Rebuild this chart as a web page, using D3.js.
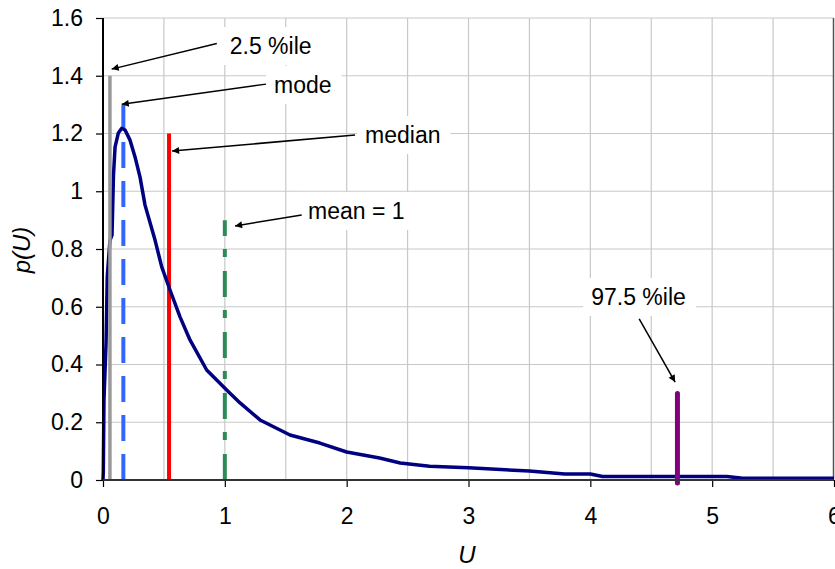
<!DOCTYPE html>
<html>
<head>
<meta charset="utf-8">
<script src="https://cdn.jsdelivr.net/npm/d3@7"></script>
<style>
  body { margin: 0; background: #fff; }
  svg { display: block; font-family: "Liberation Sans", Arial, sans-serif; }
</style>
</head>
<body>
<svg id="plotSvg"></svg>
<script>
// density curve
const uVals = [0, 0.0025, 0.008, 0.025, 0.035, 0.057, 0.074, 0.086, 0.099, 0.126, 0.154, 0.181, 0.222, 0.263,
  0.304, 0.345, 0.427, 0.482, 0.55, 0.632, 0.714, 0.851, 0.933, 1.015, 1.125, 1.289, 1.535, 1.78, 2.0,
  2.27, 2.44, 2.68, 3.0, 3.5, 3.79, 4.0, 4.1, 5.12, 5.25, 6.0];
const pVals = [0, 0.029, 0.277, 0.474, 0.704, 0.83, 0.848, 1.056, 1.153, 1.202, 1.218, 1.212, 1.177, 1.119,
  1.049, 0.952, 0.831, 0.738, 0.658, 0.565, 0.485, 0.381, 0.346, 0.312, 0.267, 0.208, 0.156, 0.128, 0.097,
  0.076, 0.059, 0.048, 0.042, 0.031, 0.021, 0.021, 0.012, 0.012, 0.006, 0.006];

// vertical marker lines
const markerNames = ["2.5 %ile", "mode", "median", "mean", "97.5 %ile"];
const markerU = [0.057, 0.167, 0.542, 1.0, 4.715];
const markerTop = [1.4, 1.3, 1.2, 0.9, 0.3];

// annotation labels
const labelTexts = ["2.5 %ile", "mode", "median", "mean = 1", "97.5 %ile"];

const xTicks = [0, 1, 2, 3, 4, 5, 6];
const yTicks = [0, 0.2, 0.4, 0.6, 0.8, 1, 1.2, 1.4, 1.6];

const W = 835, H = 569;
const margin = { top: 18, right: 1, bottom: 89, left: 103 };
const fontSize = 23;

const svg = d3.select("#plotSvg").attr("width", W).attr("height", H);

const x = d3.scaleLinear().domain([0, 6]).range([margin.left, W - margin.right]);
const y = d3.scaleLinear().domain([0, 1.6]).range([H - margin.bottom, margin.top]);

// gridlines
const grid = svg.append("g").attr("stroke", "#c8c8c8").attr("stroke-width", 1.2);
grid.selectAll(".vg").data(d3.range(0.5, 5.99, 0.5)).enter().append("line")
  .attr("x1", d => x(d)).attr("x2", d => x(d))
  .attr("y1", y(0)).attr("y2", y(1.6));
grid.selectAll(".hg").data(yTicks.slice(1)).enter().append("line")
  .attr("x1", x(0)).attr("x2", x(6))
  .attr("y1", d => y(d)).attr("y2", d => y(d));

// right frame edge
svg.append("line").attr("x1", x(6) - 0.5).attr("x2", x(6) - 0.5).attr("y1", y(1.6)).attr("y2", y(0))
  .attr("stroke", "#555").attr("stroke-width", 1.5);

// marker styles
const markerStyle = {
  "2.5 %ile": { color: "#999999", width: 3.5, dash: null, cap: "butt" },
  "mode": { color: "#3366ff", width: 4, dash: "26,13", cap: "butt" },
  "median": { color: "#ff0000", width: 4, dash: null, cap: "butt" },
  "mean": { color: "#2e8b57", width: 4, dash: "26,14,8,13", cap: "butt" },
  "97.5 %ile": { color: "#800080", width: 5, dash: null, cap: "round" }
};

const markers = markerNames.map((n, i) => ({ name: n, u: markerU[i], top: markerTop[i] }));

// curve
const line = d3.line().x(d => x(d[0])).y(d => y(d[1]));
const curveData = uVals.map((u, i) => [u, pVals[i]]);

svg.append("g").selectAll("line").data(markers.filter(d => d.name !== "97.5 %ile" && d.name !== "2.5 %ile"))
  .enter().append("line")
  .attr("x1", d => x(d.u)).attr("x2", d => x(d.u))
  .attr("y1", y(0)).attr("y2", d => y(d.top))
  .attr("stroke", d => markerStyle[d.name].color)
  .attr("stroke-width", d => markerStyle[d.name].width)
  .attr("stroke-dasharray", d => markerStyle[d.name].dash)
  .attr("stroke-linecap", d => markerStyle[d.name].cap);

svg.append("path").datum(curveData)
  .attr("d", line)
  .attr("fill", "none")
  .attr("stroke", "#000080")
  .attr("stroke-width", 3.5)
  .attr("stroke-linejoin", "round");

svg.append("g").selectAll("line").data(markers.filter(d => d.name === "97.5 %ile" || d.name === "2.5 %ile"))
  .enter().append("line")
  .attr("x1", d => x(d.u)).attr("x2", d => x(d.u))
  .attr("y1", d => d.name === "97.5 %ile" ? y(0) + 3 : y(0)).attr("y2", d => y(d.top))
  .attr("stroke", d => markerStyle[d.name].color)
  .attr("stroke-width", d => markerStyle[d.name].width)
  .attr("stroke-linecap", d => markerStyle[d.name].cap);

// axes
const xAxis = svg.append("g")
  .attr("transform", `translate(0,${y(0)})`)
  .call(d3.axisBottom(x).tickValues(xTicks).tickFormat(d3.format("d")).tickSize(7).tickSizeOuter(0).tickPadding(21));
const yAxis = svg.append("g")
  .attr("transform", `translate(${x(0)},0)`)
  .call(d3.axisLeft(y).tickValues(yTicks).tickFormat(d => d3.format("")(+d.toFixed(1))).tickSize(7).tickSizeOuter(0).tickPadding(13));

[xAxis, yAxis].forEach(a => {
  a.select(".domain").remove();
  a.selectAll(".tick line").attr("stroke", "#000").attr("stroke-width", 1.2);
  a.selectAll("text").attr("font-size", fontSize).attr("fill", "#000")
    .attr("font-family", "'Liberation Sans', Arial, sans-serif");
});

svg.append("line").attr("x1", x(0)).attr("x2", x(0)).attr("y1", y(0)).attr("y2", y(1.6))
  .attr("stroke", "#000").attr("stroke-width", 2);
svg.append("line").attr("x1", x(0)).attr("x2", x(6)).attr("y1", y(0)).attr("y2", y(0))
  .attr("stroke", "#333").attr("stroke-width", 2);

// axis titles
svg.append("text").attr("x", 467).attr("y", 563)
  .attr("text-anchor", "middle").attr("font-size", 24).attr("font-style", "italic").text("U");
svg.append("text").attr("transform", "translate(30,250) rotate(-90)")
  .attr("text-anchor", "middle").attr("font-size", 24).attr("font-style", "italic").text("p(U)");

// annotations: text position and arrow in data units
const annotations = [
  { text: labelTexts[0], tx: 1.04, ty: 1.503, from: [0.934, 1.512], to: [0.071, 1.423] },
  { text: labelTexts[1], tx: 1.404, ty: 1.368, from: [1.338, 1.371], to: [0.154, 1.301] },
  { text: labelTexts[2], tx: 2.151, ty: 1.195, from: [2.069, 1.195], to: [0.567, 1.139] },
  { text: labelTexts[3], tx: 1.683, ty: 0.932, from: [1.631, 0.918], to: [1.084, 0.88] },
  { text: labelTexts[4], tx: 4.007, ty: 0.634, from: [4.401, 0.558], to: [4.696, 0.339] }
];

svg.append("defs").append("marker")
  .attr("id", "arrow")
  .attr("viewBox", "0 0 10 10")
  .attr("refX", 10).attr("refY", 5)
  .attr("markerWidth", 10).attr("markerHeight", 7)
  .attr("markerUnits", "userSpaceOnUse")
  .attr("orient", "auto")
  .append("path").attr("d", "M0,0 L10,5 L0,10 Z").attr("fill", "#000");

const ann = svg.append("g").selectAll("g").data(annotations).enter().append("g");
ann.append("rect").attr("class", "bg").attr("fill", "#fff");
ann.append("text")
  .attr("x", d => x(d.tx)).attr("y", d => y(d.ty))
  .attr("dy", "0.35em")
  .attr("font-size", fontSize)
  .text(d => d.text);
ann.each(function () {
  const g = d3.select(this);
  const bb = g.select("text").node().getBBox();
  g.select("rect").attr("x", bb.x - 8).attr("y", bb.y - 6)
    .attr("width", bb.width + 18).attr("height", bb.height + 12);
});
ann.append("line")
  .attr("x1", d => x(d.from[0])).attr("y1", d => y(d.from[1]))
  .attr("x2", d => x(d.to[0])).attr("y2", d => y(d.to[1]))
  .attr("stroke", "#000").attr("stroke-width", 1.5)
  .attr("marker-end", "url(#arrow)");
</script>
</body>
</html>
